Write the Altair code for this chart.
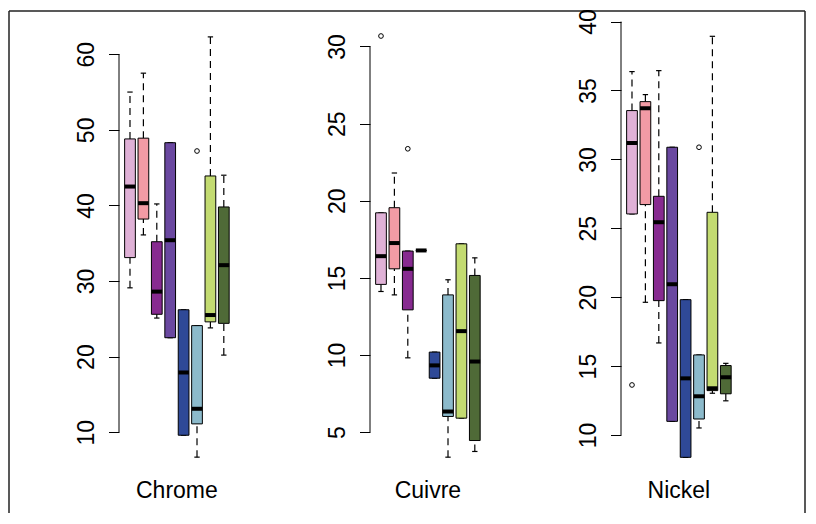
import altair as alt
import pandas as pd

PANELS = ["Chrome", "Cuivre", "Nickel"]
COLORS = ["#DFB1D6", "#F29BA5", "#872A90", "#6A48A0", "#2F4997", "#8CBACB", "#C3DB71", "#4F6A37"]
BOX_POS = [1, 2, 3, 4, 5, 6, 7, 8]

# Chrome: lower whisker, Q1, median, Q3, upper whisker
CHROME_LO = [29.1, 36.1, 25.1, 22.5, 9.6, 6.7, 23.8, 20.2]
CHROME_Q1 = [33.1, 38.2, 25.6, 22.5, 9.6, 11.1, 24.6, 24.4]
CHROME_MED = [42.5, 40.3, 28.6, 35.4, 17.9, 13.1, 25.5, 32.1]
CHROME_Q3 = [48.8, 48.9, 35.2, 48.3, 26.2, 24.1, 43.9, 39.8]
CHROME_HI = [55.0, 57.5, 40.2, 48.3, 26.2, 24.1, 62.3, 44.0]
CHROME_OUT_BOX = [6]
CHROME_OUT_VAL = [47.2]
CHROME_TICKS = [10, 20, 30, 40, 50, 60]
CHROME_YLIM = [4.47, 64.6]

# Cuivre
CUIVRE_LO = [14.12, 13.9, 9.82, 16.78, 8.5, 3.38, 5.91, 3.75]
CUIVRE_Q1 = [14.58, 15.59, 12.93, 16.78, 8.5, 6.02, 5.91, 4.46]
CUIVRE_MED = [16.41, 17.26, 15.59, 16.78, 9.33, 6.34, 11.55, 9.58]
CUIVRE_Q3 = [19.22, 19.55, 16.74, 16.78, 10.19, 13.9, 17.21, 15.16]
CUIVRE_HI = [19.22, 21.8, 16.74, 16.78, 10.19, 14.88, 17.21, 16.3]
CUIVRE_OUT_BOX = [1, 3]
CUIVRE_OUT_VAL = [30.68, 23.37]
CUIVRE_TICKS = [5, 10, 15, 20, 25, 30]
CUIVRE_YLIM = [2.29, 31.75]

# Nickel
NICKEL_LO = [26.04, 19.63, 16.68, 10.99, 8.38, 10.51, 13.03, 12.48]
NICKEL_Q1 = [26.04, 26.72, 19.75, 10.99, 8.38, 11.16, 13.22, 12.99]
NICKEL_MED = [31.19, 33.71, 25.44, 20.94, 14.11, 12.81, 13.39, 14.19]
NICKEL_Q3 = [33.54, 34.19, 27.32, 30.88, 19.82, 15.81, 26.16, 15.04]
NICKEL_HI = [36.37, 34.7, 36.44, 30.88, 19.82, 15.81, 38.93, 15.2]
NICKEL_OUT_BOX = [1, 6]
NICKEL_OUT_VAL = [13.63, 30.88]
NICKEL_TICKS = [10, 15, 20, 25, 30, 35, 40]
NICKEL_YLIM = [7.17, 40.15]

DATA = [
    (CHROME_LO, CHROME_Q1, CHROME_MED, CHROME_Q3, CHROME_HI, CHROME_OUT_BOX, CHROME_OUT_VAL, CHROME_TICKS, CHROME_YLIM),
    (CUIVRE_LO, CUIVRE_Q1, CUIVRE_MED, CUIVRE_Q3, CUIVRE_HI, CUIVRE_OUT_BOX, CUIVRE_OUT_VAL, CUIVRE_TICKS, CUIVRE_YLIM),
    (NICKEL_LO, NICKEL_Q1, NICKEL_MED, NICKEL_Q3, NICKEL_HI, NICKEL_OUT_BOX, NICKEL_OUT_VAL, NICKEL_TICKS, NICKEL_YLIM),
]

FONT = "Liberation Sans"
H = 501
Y_RANGE = [462, 7.5]
X_DOM = [0.18, 8.82]
X_RANGE = [0, 115.8]
PANEL_W = [251, 251, 184]
FRAME_C = "#222222"
FRAME_W = 1.5


def panel(k):
    lo, q1, med, q3, hi, ob, ov, ticks, ylim = DATA[k]
    df = pd.DataFrame({"pos": BOX_POS, "lo": lo, "q1": q1, "med": med, "q3": q3, "hi": hi, "col": COLORS})
    df["xl"] = df["pos"] - 0.4
    df["xr"] = df["pos"] + 0.4
    df["cl"] = df["pos"] - 0.2
    df["cr"] = df["pos"] + 0.2
    odf = pd.DataFrame({"pos": ob, "val": ov})

    xs = alt.Scale(domain=X_DOM, range=X_RANGE)
    ys = alt.Scale(domain=ylim, range=Y_RANGE)

    yaxis = alt.Axis(values=ticks, domain=False, grid=False, ticks=True, tickSize=10.5,
                     tickColor="black", tickWidth=1, labelAngle=270, labelAlign="center",
                     labelBaseline="alphabetic", labelPadding=15, labelFont=FONT,
                     labelFontSize=23, labelColor="black", labelOverlap=False,
                     labelFlush=False, title=None)

    def X(f):
        return alt.X(f"{f}:Q", scale=xs, axis=None)

    def Y(f):
        return alt.Y(f"{f}:Q", scale=ys, axis=yaxis)

    base = alt.Chart(df)
    whisk_hi = base.mark_rule(color="black", strokeWidth=1.2, strokeDash=[7, 5]).encode(
        x=X("pos"), y=Y("q3"), y2="hi")
    whisk_lo = base.mark_rule(color="black", strokeWidth=1.2, strokeDash=[7, 5]).encode(
        x=X("pos"), y=Y("lo"), y2="q1")
    cap_hi = base.mark_rule(color="black", strokeWidth=1.2).encode(x=X("cl"), x2="cr", y=Y("hi"))
    cap_lo = base.mark_rule(color="black", strokeWidth=1.2).encode(x=X("cl"), x2="cr", y=Y("lo"))
    box = base.mark_rect(stroke="black", strokeWidth=1).encode(
        x=X("xl"), x2="xr", y=Y("q1"), y2="q3", fill=alt.Fill("col:N", scale=None))
    medl = base.mark_rule(color="black", strokeWidth=4).encode(x=X("xl"), x2="xr", y=Y("med"))
    outl = alt.Chart(odf).mark_point(shape="circle", filled=False, color="black", size=22,
                                     strokeWidth=1, opacity=1).encode(x=X("pos"), y=Y("val"))
    axdf = pd.DataFrame({"a": [min(ticks)], "b": [max(ticks)]})
    axline = alt.Chart(axdf).mark_rule(color="black", strokeWidth=1).encode(
        x=alt.value(0), y=Y("a"), y2="b")
    labdf = pd.DataFrame({"name": [PANELS[k]], "pos": [4.5]})
    label = alt.Chart(labdf).mark_text(font=FONT, fontSize=23, baseline="alphabetic",
                                       align="center", color="black").encode(
        x=X("pos"), y=alt.value(485.5), text="name:N")

    one = pd.DataFrame({"z": [0]})
    w = PANEL_W[k]
    x0 = -110 if k == 0 else 0
    layers = [whisk_hi, whisk_lo, cap_hi, cap_lo, box, medl, outl, axline, label]
    layers.append(alt.Chart(one).mark_rule(color=FRAME_C, strokeWidth=FRAME_W).encode(
        x=alt.value(x0), x2=alt.value(w), y=alt.value(-1)))
    if k == 0:
        layers.append(alt.Chart(one).mark_rule(color=FRAME_C, strokeWidth=FRAME_W).encode(
            x=alt.value(x0), y=alt.value(-1), y2=alt.value(H)))
    if k == 2:
        layers.append(alt.Chart(one).mark_rule(color=FRAME_C, strokeWidth=FRAME_W).encode(
            x=alt.value(w), y=alt.value(-1), y2=alt.value(H)))
    return alt.layer(*layers).properties(width=w, height=H)


chart = alt.hconcat(panel(0), panel(1), panel(2), spacing=0, bounds="flush", padding=0)
chart = chart.configure(font=FONT, background="white").configure_view(stroke=None)
chart.save("out.html", embed_options={"renderer": "svg", "actions": False})
